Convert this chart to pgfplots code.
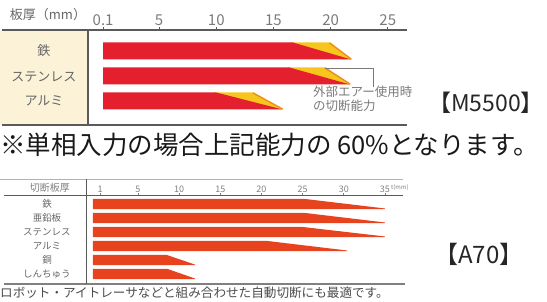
\documentclass[border=0pt]{standalone}
\usepackage{fontspec}
\setmainfont{Noto Sans CJK JP}
\usepackage{pgfplots}
\pgfplotsset{compat=1.18}
\definecolor{barred}{HTML}{E4202E}
\definecolor{baryel}{HTML}{F7C51E}
\definecolor{barorg}{HTML}{EE8B1C}
\definecolor{barred2}{HTML}{E7431E}
\definecolor{beige}{HTML}{FBF2D8}
\definecolor{linegray}{HTML}{5A5A5A}
\definecolor{txtgray}{HTML}{7A7A7A}
\definecolor{lblgray}{HTML}{666666}
\begin{document}
\begin{tikzpicture}[x=1pt,y=1pt]
\useasboundingbox (0,0) rectangle (547,-302);
% ---------- top chart ----------
\fill[beige] (0,-30) rectangle (88,-125);
\begin{axis}[
  at={(88pt,-30pt)}, anchor=north west,
  scale only axis, width=319pt, height=95pt,
  xmin=-1.22, xmax=26.68, ymin=-0.96, ymax=2.84,
  axis line style={draw=none},
  ytick=\empty,
  xtick={0.1,5,10,15,20,25},
  xticklabels={0.1,5,10,15,20,25},
  xtick pos=right, xticklabel pos=right,
  tick align=outside, major tick length=2.5pt,
  tick style={draw=linegray, line width=1pt},
  /pgf/number format/assume math mode=true,
  xticklabel style={font=\fontsize{15}{15}\selectfont, text=txtgray, inner sep=0pt, anchor=south, yshift=2pt},
  clip=false,
]
% 鉄
\addplot[fill=baryel, draw=none] coordinates {(16.5,2.34) (20.0,2.34) (21.9,1.66) (21.0,1.66)} -- cycle;
\addplot[draw=barorg, line width=1.3pt] coordinates {(19.9,2.32) (21.8,1.68)};
\addplot[fill=barred, draw=none] coordinates {(0.1,1.66) (0.1,2.34) (16.7,2.34) (21.8,1.66)} -- cycle;
% ステンレス
\addplot[fill=baryel, draw=none] coordinates {(16.2,1.34) (19.6,1.34) (21.8,0.66) (21.0,0.66)} -- cycle;
\addplot[draw=barorg, line width=1.3pt] coordinates {(19.5,1.32) (21.7,0.68)};
\addplot[fill=barred, draw=none] coordinates {(0.1,0.66) (0.1,1.34) (16.4,1.34) (21.7,0.66)} -- cycle;
% アルミ
\addplot[fill=baryel, draw=none] coordinates {(9.8,0.34) (13.3,0.34) (15.9,-0.34) (15.0,-0.34)} -- cycle;
\addplot[draw=barorg, line width=1.3pt] coordinates {(13.2,0.32) (15.8,-0.32)};
\addplot[fill=barred, draw=none] coordinates {(0.1,-0.34) (0.1,0.34) (10.0,0.34) (15.8,-0.34)} -- cycle;
% bracket
\addplot[draw=txtgray, line width=0.8pt] coordinates {(19.5,1.32) (23.7,1.32) (23.7,0.56)};
\end{axis}
\draw[linegray, line width=1.3pt] (2,-30) -- (407,-30);
\draw[linegray, line width=1.3pt] (2,-125) -- (407,-125);
\draw[linegray, line width=1.3pt] (88,-30) -- (88,-125);
\node[font=\fontsize{13}{13}\selectfont, text=lblgray, inner sep=0pt] at (48,-15) {板厚（mm）};
\node[font=\fontsize{13}{13}\selectfont, text=lblgray, inner sep=0pt] at (44,-51) {鉄};
\node[font=\fontsize{13}{13}\selectfont, text=lblgray, inner sep=0pt] at (44,-77) {ステンレス};
\node[font=\fontsize{13}{13}\selectfont, text=lblgray, inner sep=0pt] at (44,-101) {アルミ};
\node[font=\fontsize{12.5}{12.5}\selectfont, text=txtgray, inner sep=0pt, anchor=west] at (313,-92) {外部エアー使用時};
\node[font=\fontsize{12.5}{12.5}\selectfont, text=txtgray, inner sep=0pt, anchor=west] at (313,-106) {の切断能力};
\node[font=\fontsize{23}{23}\selectfont, text=black!85, inner sep=0pt] at (486,-103) {【M5500】};
% ---------- middle note ----------
\node[font=\fontsize{25.5}{25.5}\selectfont, text=black!90, inner sep=0pt, anchor=west] at (0,-145) {※単相入力の場合上記能力の 60\%となります。};
% ---------- bottom chart ----------
\begin{axis}[
  at={(86pt,-196pt)}, anchor=north west,
  scale only axis, width=317pt, height=88pt,
  xmin=-1.31, xmax=37.19, ymin=-0.714, ymax=5.571,
  axis line style={draw=none},
  ytick=\empty,
  xtick={0.4,5,10,15,20,25,30,35},
  xticklabels={1,5,10,15,20,25,30,35},
  xtick pos=right, xticklabel pos=right,
  tick align=outside, major tick length=2.5pt,
  tick style={draw=gray, line width=0.8pt},
  /pgf/number format/assume math mode=true,
  xticklabel style={font=\fontsize{9}{9}\selectfont, text=gray, inner sep=0pt, anchor=south, yshift=1pt},
  clip=false,
]
\addplot[fill=barred2, draw=none] coordinates {(-0.46,4.64) (-0.46,5.36) (25.3,5.36) (35.0,4.68) (35.0,4.64)} -- cycle;
\addplot[fill=barred2, draw=none] coordinates {(-0.46,3.64) (-0.46,4.36) (25.3,4.36) (35.0,3.68) (35.0,3.64)} -- cycle;
\addplot[fill=barred2, draw=none] coordinates {(-0.46,2.64) (-0.46,3.36) (25.0,3.36) (35.0,2.68) (35.0,2.64)} -- cycle;
\addplot[fill=barred2, draw=none] coordinates {(-0.46,1.64) (-0.46,2.36) (20.7,2.36) (30.4,1.68) (30.4,1.64)} -- cycle;
\addplot[fill=barred2, draw=none] coordinates {(-0.46,0.64) (-0.46,1.36) (8.5,1.36) (11.9,0.68) (11.9,0.64)} -- cycle;
\addplot[fill=barred2, draw=none] coordinates {(-0.46,-0.36) (-0.46,0.36) (8.6,0.36) (11.9,-0.32) (11.9,-0.36)} -- cycle;
\end{axis}
\draw[gray!60, line width=0.8pt] (0,-179) -- (403,-179);
\draw[linegray, line width=1pt] (4,-196) -- (403,-196);
\draw[gray, line width=1.3pt] (4,-284) -- (405,-284);
\draw[linegray, line width=0.8pt] (86,-179) -- (86,-284);
\node[font=\fontsize{10}{10}\selectfont, text=gray, inner sep=0pt] at (50,-188) {切断板厚};
\node[font=\fontsize{6}{6}\selectfont, text=gray, inner sep=0pt, anchor=west] at (391,-188) {t(mm)};
\node[font=\fontsize{9.5}{9.5}\selectfont, text=lblgray, inner sep=0pt] at (47,-204) {鉄};
\node[font=\fontsize{9.5}{9.5}\selectfont, text=lblgray, inner sep=0pt] at (47,-218) {亜鉛板};
\node[font=\fontsize{9.5}{9.5}\selectfont, text=lblgray, inner sep=0pt] at (47,-232) {ステンレス};
\node[font=\fontsize{9.5}{9.5}\selectfont, text=lblgray, inner sep=0pt] at (47,-246) {アルミ};
\node[font=\fontsize{9.5}{9.5}\selectfont, text=lblgray, inner sep=0pt] at (47,-260) {銅};
\node[font=\fontsize{9.5}{9.5}\selectfont, text=lblgray, inner sep=0pt] at (47,-274) {しんちゅう};
\node[font=\fontsize{24}{24}\selectfont, text=black!85, inner sep=0pt] at (479,-254) {【A70】};
\node[font=\fontsize{12.6}{12.6}\selectfont, text=black!70, inner sep=0pt, anchor=west] at (0,-293) {ロボット・アイトレーサなどと組み合わせた自動切断にも最適です。};
\end{tikzpicture}
\end{document}
